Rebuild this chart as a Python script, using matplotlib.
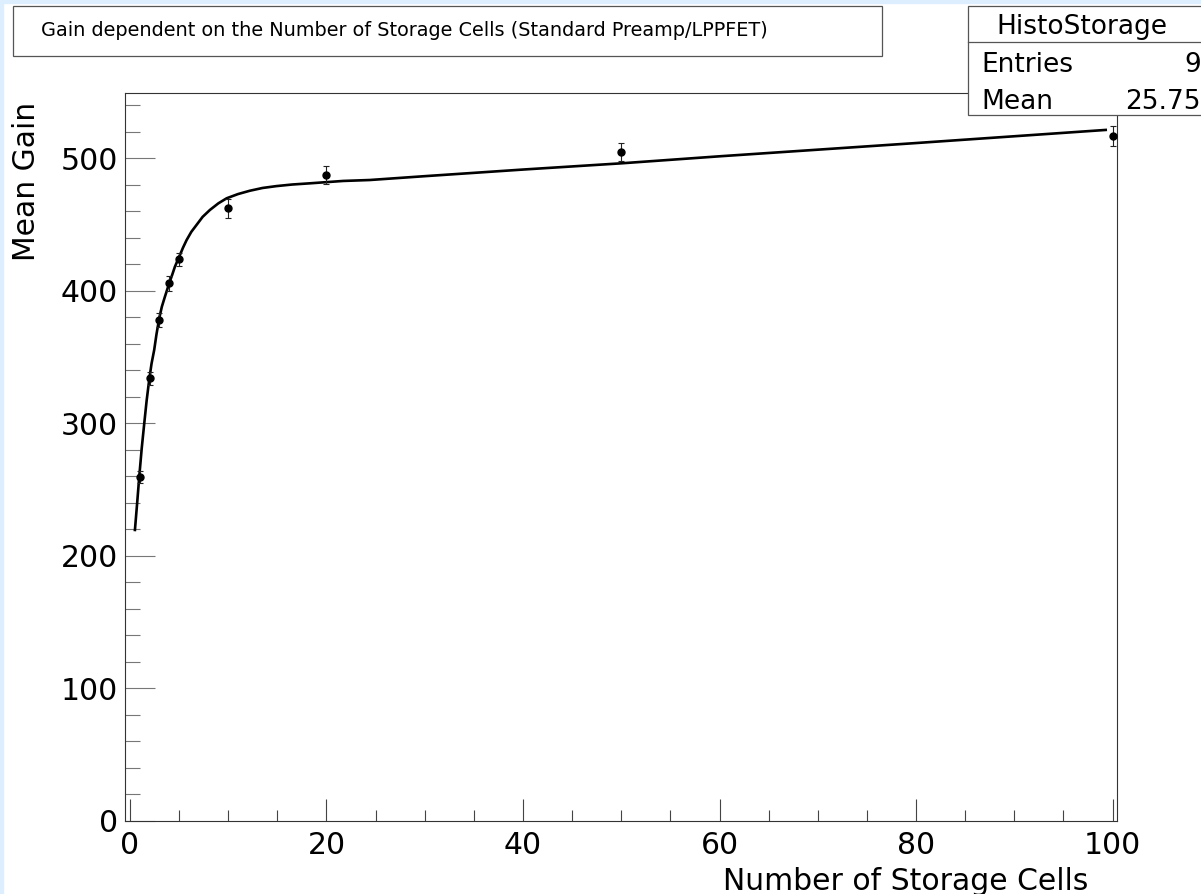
import matplotlib
matplotlib.use("Agg")
import matplotlib.pyplot as plt
from matplotlib.patches import Rectangle
from matplotlib.ticker import MultipleLocator

# measured points
cells = [1, 2, 3, 4, 5, 10, 20, 50, 100]
gain = [259.6, 334.0, 378.0, 405.7, 423.8, 462.3, 487.4, 504.7, 516.8]
gain_err = [4.5, 5.0, 5.0, 5.5, 5.0, 7.0, 6.5, 7.0, 7.5]

# fit curve
fit_x = [0.51, 0.75, 0.95, 1.2, 1.46, 1.7, 1.96, 2.2, 2.47, 2.7, 2.98, 3.25,
         3.56, 4.0, 4.3, 4.58, 5.09, 5.4, 5.77, 6.25, 6.78, 7.4, 8.14, 9.0,
         9.84, 11.0, 12.2, 13.5, 14.9, 16.5, 18.3, 21.7, 24.4, 30, 40, 50,
         60, 80, 99.3]
fit_y = [219.5, 241.0, 259.7, 281.0, 300.0, 317.0, 332.7, 345.0, 355.3, 367.0,
         379.2, 388.0, 395.5, 405.7, 412.0, 418.2, 427.0, 432.5, 438.3, 444.5,
         449.7, 455.8, 461.0, 466.0, 469.8, 473.0, 475.5, 477.6, 479.0, 480.2,
         481.1, 482.9, 483.6, 486.5, 491.5, 496.2, 501.5, 511.5, 521.4]

title = "Gain dependent on the Number of Storage Cells (Standard Preamp/LPPFET)"
stats_name = "HistoStorage"
stats_rows = [("Entries", "9"), ("Mean", "25.75")]

W, H = 1201, 894
fig = plt.figure(figsize=(W / 100, H / 100), dpi=100)


def fx(px):
    return px / W


def fy(py):
    return 1 - py / H


# light blue window edge
fig.patches.append(Rectangle((0, fy(3)), 1, 3 / H, transform=fig.transFigure,
                             color="#ddeeff", zorder=0))
fig.patches.append(Rectangle((0, 0), 3 / W, 1, transform=fig.transFigure,
                             color="#ddeeff", zorder=0))

ax = fig.add_axes([fx(125), fy(820.8), fx(1117) - fx(125), fy(92.7) - fy(820.8)])
ax.errorbar(cells, gain, yerr=gain_err, fmt="o", color="black", ms=5,
            ecolor="#222222", elinewidth=0.8, capsize=2, capthick=0.8, zorder=3)
ax.plot(fit_x, fit_y, color="black", lw=1.9, zorder=2,
        solid_joinstyle="round")

ax.set_xlim(-0.5, 100.45)
ax.set_ylim(0, 549.5)
ax.xaxis.set_major_locator(MultipleLocator(20))
ax.xaxis.set_minor_locator(MultipleLocator(5))
ax.yaxis.set_major_locator(MultipleLocator(100))
ax.yaxis.set_minor_locator(MultipleLocator(20))
ax.tick_params(axis="x", which="major", direction="in", length=16, width=0.8,
               color="#444444", labelsize=21.5, pad=7, top=False)
ax.tick_params(axis="x", which="minor", direction="in", length=8, width=0.8,
               color="#444444", top=False)
ax.tick_params(axis="y", which="major", direction="in", length=21.5, width=0.8,
               color="#777777", labelsize=21.5, pad=5, right=False)
ax.tick_params(axis="y", which="minor", direction="in", length=11, width=0.8,
               color="#777777", right=False)
for sp in ax.spines.values():
    sp.set_color("#333333")
    sp.set_linewidth(0.8)

fig.text(fx(27), fy(102), "Mean Gain", rotation=90, ha="center", va="top",
         fontsize=21.5)
fig.text(fx(1088), fy(890), "Number of Storage Cells", ha="right",
         va="baseline", fontsize=21.5)

# title box
fig.patches.append(Rectangle((fx(13), fy(56)), fx(882) - fx(13), fy(6) - fy(56),
                             transform=fig.transFigure, facecolor="white",
                             edgecolor="#555555", lw=0.9))
fig.text(fx(41), fy(31), title, ha="left", va="center", fontsize=13.9)

# stats box
fig.patches.append(Rectangle((fx(968), fy(115)), fx(1260) - fx(968), fy(6) - fy(115),
                             transform=fig.transFigure, facecolor="white",
                             edgecolor="#555555", lw=0.9, zorder=5))
fig.add_artist(plt.Line2D([fx(968), 1], [fy(42), fy(42)], color="#555555",
                          lw=0.9, zorder=6))
fig.text(fx(1082), fy(27), stats_name, ha="center", va="center", fontsize=19,
         zorder=7)
for i, (k, v) in enumerate(stats_rows):
    y = fy(65 + 37 * i)
    fig.text(fx(981), y, k, ha="left", va="center", fontsize=19, zorder=7)
    fig.text(fx(1201), y, v, ha="right", va="center", fontsize=19, zorder=7)

fig.savefig("out.png", dpi=100)
